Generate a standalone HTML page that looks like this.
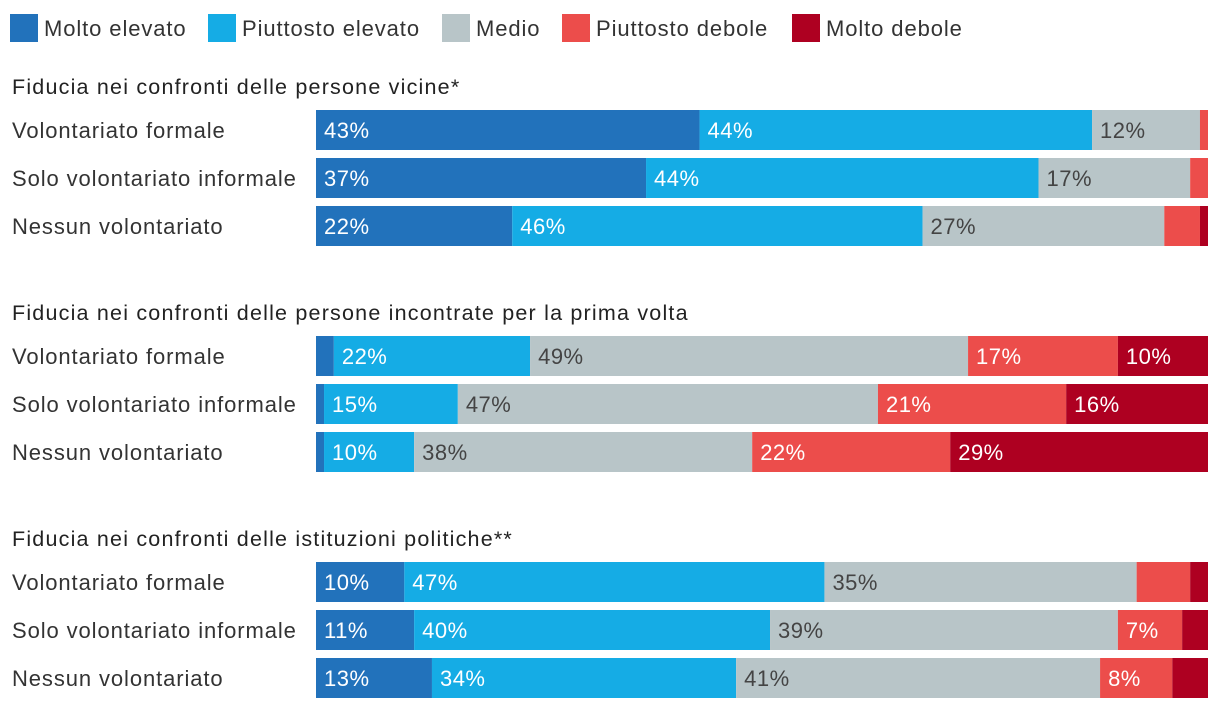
<!DOCTYPE html>
<html><head><meta charset="utf-8"><style>
body{margin:0;background:#fff;width:1220px;height:708px;overflow:hidden;font-family:"Liberation Sans",sans-serif;}
svg text{font-family:"Liberation Sans",sans-serif;}
</style></head><body>
<svg id="c" width="1220" height="708"></svg>
<script>
const seriesNames=["Molto elevato","Piuttosto elevato","Medio","Piuttosto debole","Molto debole"];
const colors=["#2272bb","#15ace5","#b8c5c8","#ec4d4b","#ae0021"];
const textColors=["#fff","#fff","#444","#fff","#fff"];
const groupTitles=["Fiducia nei confronti delle persone vicine*","Fiducia nei confronti delle persone incontrate per la prima volta","Fiducia nei confronti delle istituzioni politiche**"];
const rowLabels=["Volontariato formale","Solo volontariato informale","Nessun volontariato"];
const g1=[[43,44,12.1,0.9,0],[37,44,17,2,0],[22,46,27.1,4,0.9]];
const g2=[[2,22,49.1,16.8,10.1],[0.9,15,47.1,21.1,15.9],[0.9,10.1,37.9,22.2,28.9]];
const g3=[[9.9,47.1,35,6,2],[11,39.9,39,7.2,2.9],[13,34.1,40.8,8.1,4]];
const groups=[g1,g2,g3];
const svg=document.getElementById('c');
const NS="http://www.w3.org/2000/svg";
function mk(t,a,txt){const e=document.createElementNS(NS,t);for(const k in a)e.setAttribute(k,a[k]);if(txt!==undefined)e.textContent=txt;svg.appendChild(e);return e;}
const x0=316,W=892;
function xs(v){return v/100*W;}
const legX=[10,208,442,562,792];
seriesNames.forEach((n,i)=>{
 const r=mk('rect',{x:legX[i],y:14,width:28,height:28,fill:colors[i]});
 
 
 const t=mk('text',{x:legX[i]+34,y:36,'font-size':22,fill:'#333','letter-spacing':0.9},n);
 
 
});
groups.forEach((g,gi)=>{
 const gy=110+gi*226;
 const tt=mk('text',{x:12,y:gy-16,'font-size':21.5,fill:'#222','letter-spacing':1.2},groupTitles[gi]);
 
 
 g.forEach((vals,ri)=>{
  const y=gy+ri*48;
  const l=mk('text',{x:12,y:y+28,'font-size':22,fill:'#333','letter-spacing':0.9},rowLabels[ri]);
  
  
  let acc=0;
  vals.forEach((v,si)=>{
   const x=x0+xs(acc);
   const r=mk('rect',{x:x,y:y,width:xs(v),height:40,fill:colors[si]});
   
   
   if(v>=6.5){
    const t=mk('text',{x:x+8,y:y+28,'font-size':22,fill:textColors[si],'letter-spacing':0.5},Math.round(v)+'%');
    
    
   }
   acc+=v;
  });
 });
});
</script>
</body></html>
